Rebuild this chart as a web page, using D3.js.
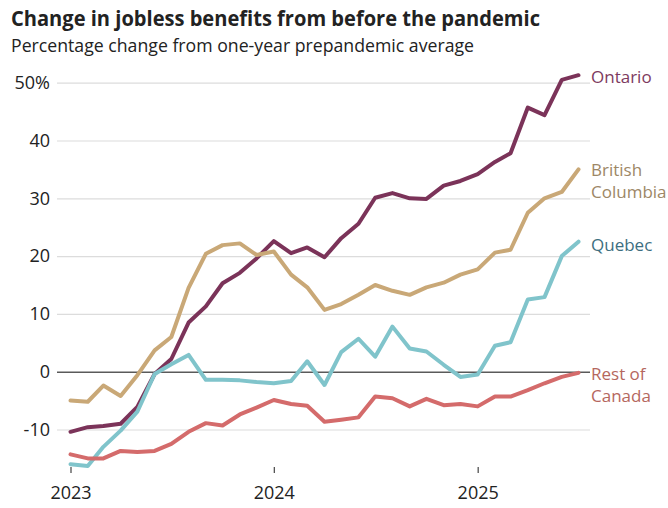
<!DOCTYPE html>
<html>
<head>
<meta charset="utf-8">
<script src="https://cdn.jsdelivr.net/npm/d3@7"></script>
<style>
  html, body { margin: 0; padding: 0; background: #ffffff; }
  svg { display: block; }
  text { font-family: "Open Sans", "Noto Sans", sans-serif; }
</style>
</head>
<body>
<svg id="chart" width="668" height="508"></svg>
<script>
// Monthly observations, January 2023 through July 2025
const months = d3.timeMonth.range(new Date(2023, 0, 1), new Date(2025, 7, 1));

// Percentage change from the one-year prepandemic average
const ontario = [-10.4, -9.6, -9.4, -9.0, -6.1, -0.4, 2.2, 8.5, 11.3, 15.3, 17.1, 19.6,
  22.6, 20.5, 21.5, 19.8, 23.1, 25.6, 30.1, 30.9, 30.0, 29.9, 32.2, 33.0,
  34.2, 36.3, 37.8, 45.7, 44.4, 50.5, 51.3];
const britishColumbia = [-5.0, -5.2, -2.4, -4.2, -0.6, 3.7, 6.0, 14.5, 20.4, 21.9, 22.2, 20.2,
  20.8, 16.8, 14.6, 10.7, 11.7, 13.3, 15.0, 14.0, 13.3, 14.6, 15.4, 16.8,
  17.7, 20.6, 21.1, 27.5, 30.0, 31.1, 35.0];
const quebec = [-16.0, -16.3, -13.0, -10.2, -6.9, -0.4, 1.3, 2.9, -1.4, -1.4, -1.5, -1.8,
  -2.0, -1.6, 1.8, -2.3, 3.4, 5.7, 2.6, 7.8, 4.0, 3.5, 1.2, -0.9,
  -0.5, 4.5, 5.1, 12.5, 12.9, 20.0, 22.5];
const restOfCanada = [-14.3, -15.0, -15.0, -13.7, -13.9, -13.7, -12.5, -10.4, -8.9, -9.3, -7.4, -6.2,
  -4.9, -5.6, -5.9, -8.65, -8.3, -7.9, -4.3, -4.6, -6.0, -4.7, -5.8, -5.6,
  -6.0, -4.3, -4.3, -3.2, -2.0, -0.9, -0.2];

const yTicks = [-10, 0, 10, 20, 30, 40, 50];
const xTickYears = [2023, 2024, 2025];

const series = [
  { name: ["Ontario"], values: ontario, color: "#7b3359", labelColor: "#7d3a60" },
  { name: ["British", "Columbia"], values: britishColumbia, color: "#c9a877", labelColor: "#9d8766" },
  { name: ["Quebec"], values: quebec, color: "#80c4cb", labelColor: "#3d6e7f" },
  { name: ["Rest of", "Canada"], values: restOfCanada, color: "#d46b6b", labelColor: "#b5675e" }
];

const svg = d3.select("#chart");

// Titles
svg.append("text")
  .attr("x", 11).attr("y", 26)
  .attr("font-size", 22).attr("font-weight", 700)
  .attr("fill", "#222")
  .attr("textLength", 529).attr("lengthAdjust", "spacingAndGlyphs")
  .text("Change in jobless benefits from before the pandemic");
svg.append("text")
  .attr("x", 11).attr("y", 52)
  .attr("font-size", 18)
  .attr("fill", "#222")
  .attr("textLength", 463).attr("lengthAdjust", "spacingAndGlyphs")
  .text("Percentage change from one-year prepandemic average");

// Scales
const x = d3.scaleTime()
  .domain([months[0], months[months.length - 1]])
  .range([70.5, 578.5]);
const y = d3.scaleLinear().domain([0, 50]).range([371.7, 82.7]);

const gridLeft = 57, gridRight = 590;

// Y axis with gridlines
const yAxis = svg.append("g")
  .attr("transform", `translate(${gridLeft},0)`)
  .call(d3.axisLeft(y)
    .tickValues(yTicks)
    .tickSize(-(gridRight - gridLeft))
    .tickPadding(7)
    .tickFormat(d => d === 50 ? "50%" : String(d)));
yAxis.select(".domain").remove();
yAxis.selectAll(".tick line")
  .attr("stroke", d => d === 0 ? "#5a5a5a" : "#dcdcdc")
  .attr("stroke-width", d => d === 0 ? 1.5 : 1.2);
yAxis.selectAll(".tick text")
  .attr("font-size", 18)
  .attr("fill", "#222")
  .attr("font-family", "'Open Sans', sans-serif");

// X axis
const xAxis = svg.append("g")
  .attr("transform", "translate(0,467)")
  .call(d3.axisBottom(x)
    .tickValues(xTickYears.map(yr => new Date(yr, 0, 1)))
    .tickSize(6)
    .tickPadding(13)
    .tickFormat(d3.timeFormat("%Y")));
xAxis.select(".domain").remove();
xAxis.selectAll(".tick line").attr("stroke", "#444").attr("stroke-width", 1.2);
xAxis.selectAll(".tick text")
  .attr("font-size", 18)
  .attr("fill", "#222")
  .attr("font-family", "'Open Sans', sans-serif");

// Lines
const line = d3.line()
  .x((d, i) => x(months[i]))
  .y(d => y(d));

svg.append("g")
  .selectAll("path")
  .data(series)
  .join("path")
  .attr("d", s => line(s.values))
  .attr("fill", "none")
  .attr("stroke", s => s.color)
  .attr("stroke-width", 4)
  .attr("stroke-linejoin", "round")
  .attr("stroke-linecap", "round");

// Series labels next to the line ends
const labelPos = {
  "Ontario": 77,
  "British": 170,
  "Quebec": 245,
  "Rest of": 374
};
series.forEach(s => {
  const t = svg.append("text")
    .attr("x", 591)
    .attr("font-size", 17)
    .attr("fill", s.labelColor);
  s.name.forEach((part, k) => {
    t.append("tspan")
      .attr("x", 591)
      .attr("y", labelPos[s.name[0]] + k * 22.5)
      .attr("dy", "0.35em")
      .text(part);
  });
});
</script>
</body>
</html>
